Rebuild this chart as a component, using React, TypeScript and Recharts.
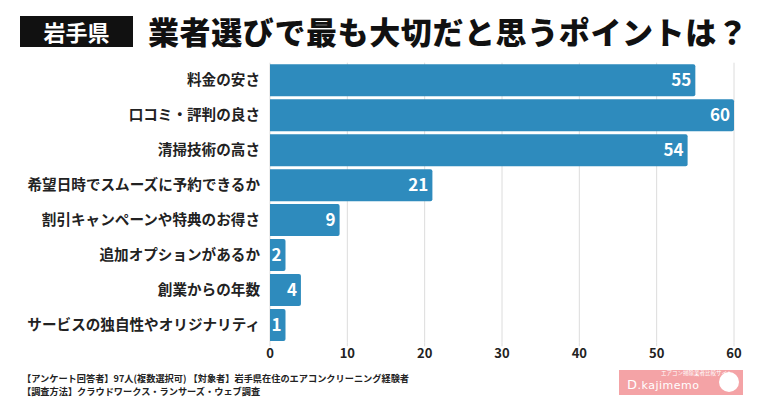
import React from 'react';
import { BarChart, Bar, XAxis, YAxis, CartesianGrid, LabelList } from 'recharts';

const categories = [
  '料金の安さ',
  '口コミ・評判の良さ',
  '清掃技術の高さ',
  '希望日時でスムーズに予約できるか',
  '割引キャンペーンや特典のお得さ',
  '追加オプションがあるか',
  '創業からの年数',
  'サービスの独自性やオリジナリティ',
];
const counts = [55, 60, 54, 21, 9, 2, 4, 1];
const xTicks = [0, 10, 20, 30, 40, 50, 60];

const BAR = '#2e8bbd';
const FONT = '"Noto Sans CJK JP", "Noto Sans", sans-serif';
const MIN_W = 15.5; // tiny bars still fit their label

const data = categories.map((name, i) => ({ name, value: counts[i] }));

function RoundBar(props: any) {
  const { x, y, height, fill } = props;
  const w = Math.max(props.width, MIN_W);
  const r = 2;
  const d = `M${x},${y} H${x + w - r} Q${x + w},${y} ${x + w},${y + r} V${y + height - r} Q${x + w},${y + height} ${x + w - r},${y + height} H${x} Z`;
  return <path d={d} fill={fill} />;
}

function ValueLabel(props: any) {
  const { x, y, width, height, value } = props;
  const w = Math.max(width, MIN_W);
  return (
    <text
      x={x + w - 4}
      y={y + height / 2}
      dy="0.36em"
      textAnchor="end"
      fill="#fff"
      fontSize={17}
      fontWeight={700}
      fontFamily={FONT}
    >
      {value}
    </text>
  );
}

export default function App() {
  return (
    <div style={{ position: 'relative', width: 760, height: 400, background: '#fff', fontFamily: FONT, overflow: 'hidden' }}>
      <style>{`body{margin:0}`}</style>
      <div
        style={{
          position: 'absolute', left: 20, top: 16, width: 113, height: 31, background: '#111',
          color: '#fff', fontSize: 22, fontWeight: 700, lineHeight: '31px', textAlign: 'center',
        }}
      >
        岩手県
      </div>
      <div
        style={{
          position: 'absolute', left: 148, top: 12, fontSize: 31, fontWeight: 900, color: '#111',
          lineHeight: '38px', whiteSpace: 'nowrap', letterSpacing: 0.6,
        }}
      >
        業者選びで最も大切だと思うポイントは？
      </div>

      <div style={{ position: 'absolute', left: 0, top: 0 }}>
        <BarChart
          width={760}
          height={400}
          data={data}
          layout="vertical"
          margin={{ top: 62.7, right: 26, bottom: 37.7, left: 0 }}
          barCategoryGap={1.6}
        >
          <CartesianGrid horizontal={false} stroke="#dcdcdc" />
          <XAxis
            type="number"
            domain={[0, 60]}
            ticks={xTicks}
            axisLine={false}
            tickLine={{ stroke: '#dcdcdc' }}
            tickSize={4}
            tickMargin={2}
            height={20}
            tick={{ fill: '#222', fontSize: 13, fontWeight: 700, fontFamily: FONT }}
          />
          <YAxis
            type="category"
            dataKey="name"
            width={270}
            axisLine={false}
            tickLine={false}
            tickMargin={4}
            interval={0}
            tick={{ fill: '#222', fontSize: 14.6, fontWeight: 700, fontFamily: FONT }}
          />
          <Bar dataKey="value" fill={BAR} shape={<RoundBar />} isAnimationActive={false}>
            <LabelList dataKey="value" content={<ValueLabel />} />
          </Bar>
        </BarChart>
      </div>

      <div
        style={{
          position: 'absolute', left: 22, top: 372, fontSize: 9.2, fontWeight: 700, color: '#222',
          lineHeight: '13px', whiteSpace: 'nowrap',
        }}
      >
        <div>【アンケート回答者】97人(複数選択可) 【対象者】岩手県在住のエアコンクリーニング経験者</div>
        <div>【調査方法】クラウドワークス・ランサーズ・ウェブ調査</div>
      </div>

      <div
        style={{
          position: 'absolute', left: 619, top: 370, width: 124, height: 25, background: '#f4a3a6',
          color: '#fff', overflow: 'hidden',
        }}
      >
        <div style={{ position: 'absolute', left: 42, top: 0, fontSize: 5.5, lineHeight: '7px', whiteSpace: 'nowrap' }}>エアコン掃除業者比較サイト</div>
        <div style={{ position: 'absolute', left: 8, top: 7, fontSize: 13, lineHeight: '16px', fontFamily: '"DejaVu Sans", sans-serif', whiteSpace: 'nowrap', letterSpacing: 0.5 }}>
          D<span style={{ fontSize: 11 }}>.kajimemo</span>
        </div>
        <div style={{ position: 'absolute', right: 4, top: 2, width: 20, height: 20, borderRadius: 10, background: '#fff' }} />
      </div>
    </div>
  );
}
